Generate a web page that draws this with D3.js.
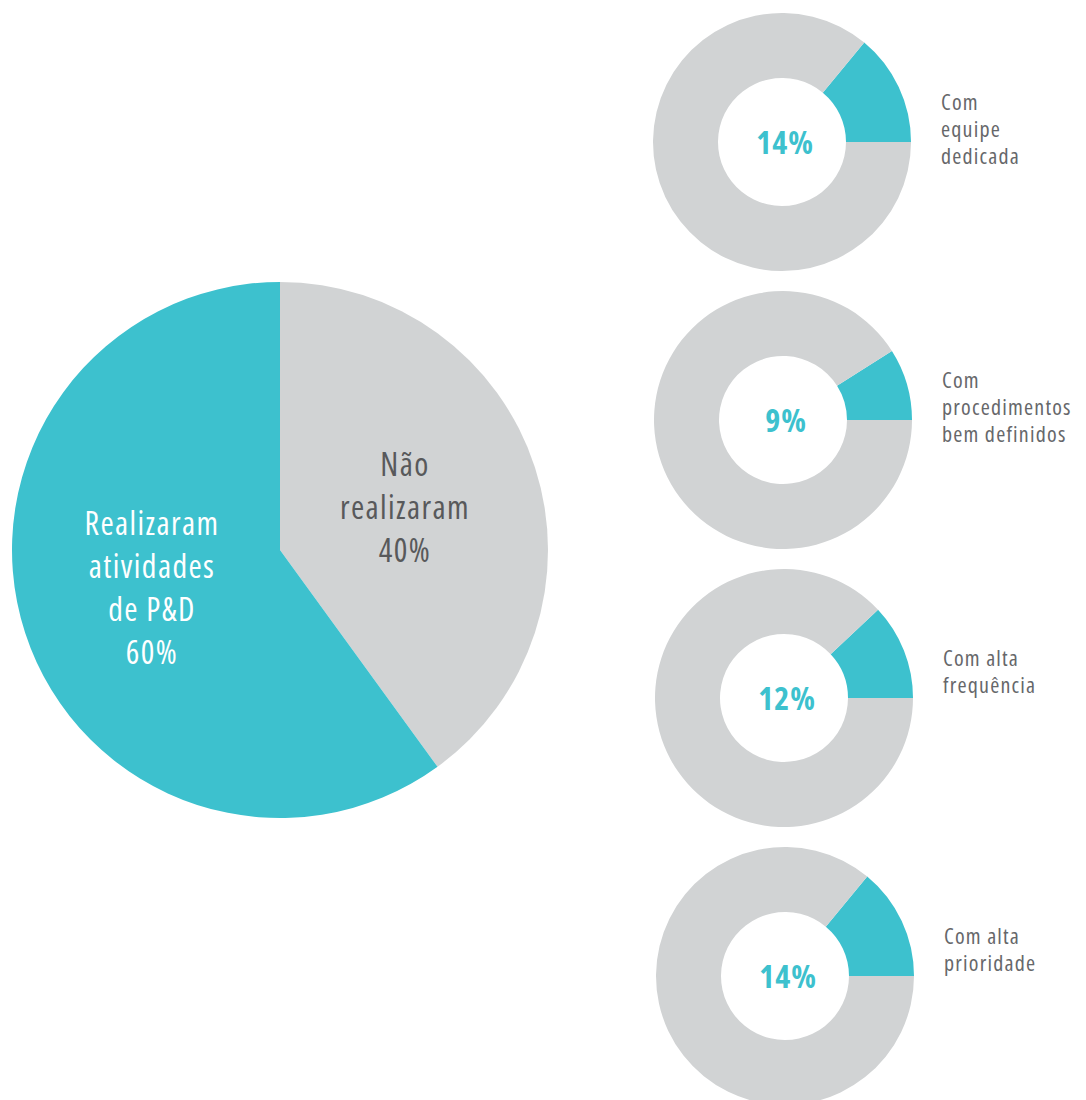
<!DOCTYPE html>
<html>
<head>
    <meta charset="utf-8">
    <style type="text/css">
        body { margin: 0; background: #fff; }
        text {
            font-family: "Open Sans", sans-serif;
            font-stretch: 75%;
        }
        .big { letter-spacing: 1.4px; }
        .pct { font-weight: bold; fill: #3dc1ce; letter-spacing: 1px; }
        .lbl { fill: #66676a; letter-spacing: 1.2px; }
    </style>
</head>
<body>
<svg id="chart"></svg>
<script src="https://d3js.org/d3.v7.min.js"></script>
<script type="text/javascript">
// main pie: share of companies that did R&D
var mainKeys = ["nao", "sim"];
var mainValues = [40, 60];
var mainLabels = [
    ["Não", "realizaram", "40%"],
    ["Realizaram", "atividades", "de P&D", "60%"]
];

// donuts: among those that did R&D
var donutShares = [14, 9, 12, 14];
var donutLabels = [
    ["Com", "equipe", "dedicada"],
    ["Com", "procedimentos", "bem definidos"],
    ["Com alta", "frequência"],
    ["Com alta", "prioridade"]
];

var width = 1086, height = 1100;
var teal = "#3dc1ce", grey = "#d1d3d4";

var svg = d3.select("#chart")
    .attr("width", width)
    .attr("height", height);

// ---- big pie
var pieMain = d3.pie().sort(null).value(function(d) { return d; });
var arcMain = d3.arc().innerRadius(0).outerRadius(268);
var main = svg.append("g").attr("transform", "translate(280,550)");

main.selectAll("path")
    .data(pieMain(mainValues))
    .enter()
    .append("path")
    .attr("d", arcMain)
    .attr("fill", function(d, i) { return i == 0 ? grey : teal; });

// label anchors relative to pie center (x, first baseline)
var mainPos = [[125, -74], [-128, -15]];
var mainFill = ["#58595b", "#ffffff"];
mainLabels.forEach(function(lines, i) {
    var t = main.append("text")
        .attr("class", "big")
        .attr("text-anchor", "middle")
        .attr("font-size", 32)
        .attr("fill", mainFill[i]);
    lines.forEach(function(s, j) {
        t.append("tspan")
            .attr("x", mainPos[i][0])
            .attr("y", mainPos[i][1] + j * 43)
            .text(s);
    });
});

// ---- donuts
var y = d3.scaleLinear().domain([0, 3]).range([142, 976]);
var cx = d3.scaleLinear().domain([0, 3]).range([782, 785]);
var arcDonut = d3.arc().innerRadius(64).outerRadius(129);

donutShares.forEach(function(p, i) {
    var g = svg.append("g")
        .attr("transform", "translate(" + cx(i) + "," + y(i) + ")");
    var a0 = Math.PI / 2 - p / 100 * 2 * Math.PI;
    var pie = d3.pie().sort(null).value(function(d) { return d; })
        .startAngle(a0)
        .endAngle(a0 + 2 * Math.PI);
    g.selectAll("path")
        .data(pie([p, 100 - p]))
        .enter()
        .append("path")
        .attr("d", arcDonut)
        .attr("fill", function(d, k) { return k == 0 ? teal : grey; });

    g.append("text")
        .attr("class", "pct")
        .attr("text-anchor", "middle")
        .attr("font-size", 32)
        .attr("x", 3)
        .attr("y", 12)
        .text(p + "%");

    var t = g.append("text")
        .attr("class", "lbl")
        .attr("font-size", 22);
    donutLabels[i].forEach(function(s, j) {
        t.append("tspan")
            .attr("x", 159)
            .attr("y", -32 + j * 27)
            .text(s);
    });
});
</script>
</body>
</html>
